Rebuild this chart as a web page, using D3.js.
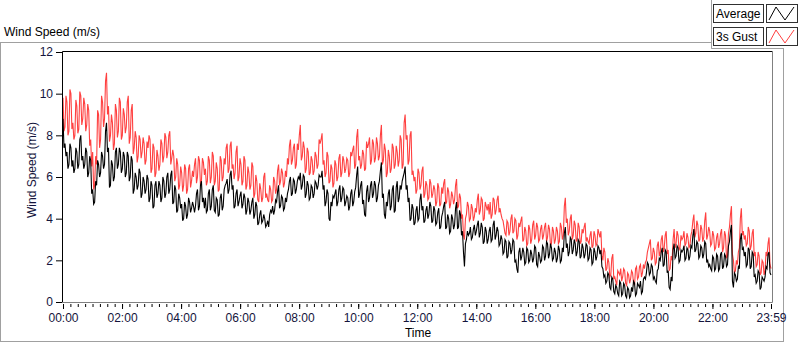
<!DOCTYPE html>
<html><head><meta charset="utf-8">
<script src="https://cdn.jsdelivr.net/npm/d3@7"></script>
<style>
html,body{margin:0;padding:0;background:#fff;}
svg{display:block;font-family:"Liberation Sans",Arial,sans-serif;}
</style></head>
<body><svg id="c" width="800" height="342"></svg>
<script>
// ---- data (m/s); each segment = ~4.8 h, two readings per 2 px column pair ----
const gustA = [9.8,8.4,9.6,8.2,10.0,8.6,8.0,9.4,8.3,9.9,8.8,9.5,8.5,9.2,7.8,7.2,5.6,6.6,9.0,7.8,9.6,8.8,11.0,9.4,8.0,8.6,7.6,9.2,8.2,9.6,8.0,9.0,8.4,9.9,7.9,9.5,7.4,7.9,7.0,7.8,7.2,7.6,6.8,7.4,7.8,6.4,7.4,6.2,7.0,6.6,7.6,7.0,7.9,7.2,8.2,6.9,7.0,6.0,6.6,5.6,6.2,5.6,6.4,5.4,6.6,5.8,6.0,6.9,6.0,6.8,5.8,6.7];
const gustAmid = [8.2,9.9,8.0,10.2,8.3,7.8,9.7,8.1,10.1,8.5,9.8,8.2,9.5,7.5,6.5,5.4,7.0,9.2,7.4,9.9,8.4,10.6,9.0,7.7,9.0,7.3,9.5,7.9,9.8,7.8,9.3,8.1,9.6,7.6,9.2,7.1,8.2,6.7,8.0,6.9,7.9,6.6,7.7,8.0,6.2,7.6,6.0,7.3,6.3,7.8,6.7,8.1,6.9,8.0,6.6,7.3,5.8,6.9,5.4,6.5,5.3,6.6,5.2,6.4,5.5,6.3,6.6,5.7,7.0,5.6,6.9,6.1];
const gustB = [6.4,5.8,6.8,6.0,7.0,5.8,6.4,5.4,6.8,6.0,6.6,7.6,6.4,7.7,6.6,6.2,7.5,6.0,6.6,5.8,6.8,5.6,6.2,5.6,6.5,5.2,5.8,4.8,5.4,5.0,6.2,5.2,4.8,5.4,4.9,5.8,5.4,6.6,5.8,6.2,5.7,6.0,6.6,7.8,6.8,7.6,6.6,7.3,8.5,7.0,7.4,6.4,7.2,6.2,6.8,6.3,7.0,6.6,7.6,8.1,6.8,6.2,7.0,5.8,6.4,5.7,6.6,6.0,7.1,6.2,6.8,6.4];
const gustBmid = [5.6,7.0,5.7,7.2,5.6,6.7,5.3,7.0,5.8,6.9,7.4,6.2,7.5,6.4,5.9,7.2,5.8,6.9,5.6,7.0,5.4,6.5,5.4,6.7,5.0,6.1,4.9,5.7,4.8,6.0,5.0,4.9,5.6,4.8,6.0,5.2,6.3,5.6,6.4,5.5,6.3,6.9,7.5,6.6,7.4,6.4,7.6,8.0,6.8,7.7,6.2,7.4,6.1,7.0,6.1,7.2,6.4,7.8,7.8,6.6,6.0,7.2,5.7,6.6,5.5,6.8,5.8,6.9,6.0,7.0,6.2,6.9];
const gustC = [6.8,6.2,7.0,7.5,6.6,8.3,7.0,6.6,7.1,6.4,7.4,7.9,6.8,7.6,6.9,7.6,7.0,8.5,6.8,7.3,6.2,7.0,6.4,7.4,6.6,7.2,6.8,7.8,6.6,9.0,8.0,6.8,8.2,6.3,6.0,5.4,6.2,5.6,6.5,5.2,5.6,5.0,5.7,5.2,5.4,4.8,5.5,4.7,5.2,5.9,4.8,5.3,4.7,5.1,4.9,5.9,4.6,5.0,4.2,3.0,4.2,4.6,4.0,4.5,4.1,4.3,5.2,4.4,4.9,4.0,4.6,4.7];
const gustCmid = [6.0,7.2,7.3,6.4,7.9,6.8,6.4,7.3,6.3,7.7,7.6,6.6,7.8,6.7,7.9,6.8,8.0,6.6,7.6,6.0,7.3,6.2,7.6,6.4,7.5,6.5,8.0,6.4,8.6,7.8,6.6,8.0,6.1,5.8,5.2,6.4,5.4,6.3,5.0,5.8,4.9,5.9,5.0,5.6,4.6,5.7,4.6,5.5,5.7,4.7,5.5,4.5,5.3,4.7,5.6,4.5,5.2,4.0,3.2,4.0,4.8,3.9,4.7,3.9,4.5,4.9,4.2,5.0,3.9,4.8,4.4,4.2];
const gustD = [4.8,4.2,4.9,4.4,5.1,4.5,4.0,3.6,3.2,3.8,3.4,4.2,3.4,3.9,3.2,3.6,4.1,3.0,3.4,2.8,3.5,3.0,3.9,3.2,3.6,3.0,3.7,3.2,3.8,3.1,3.5,2.8,3.4,3.0,3.4,2.9,3.6,3.2,5.0,4.0,3.4,4.2,3.2,3.7,3.0,3.6,2.9,3.3,3.8,3.1,2.8,3.4,2.7,3.2,2.8,3.3,3.4,2.0,2.4,1.6,1.9,1.3,2.3,1.2,0.8,1.4,1.6,1.2,1.5,0.8,1.3,1.1];
const gustDmid = [4.0,5.0,4.2,4.9,4.3,4.2,3.9,3.3,3.9,3.2,4.0,3.3,4.0,3.0,3.8,3.9,2.9,3.6,2.7,3.7,2.8,3.7,3.0,3.8,2.9,3.5,3.0,3.6,2.9,3.7,2.7,3.6,2.8,3.6,2.8,3.8,3.0,4.6,3.8,3.2,4.0,3.0,3.9,2.9,3.8,2.8,3.5,3.6,2.9,2.9,3.2,2.6,3.4,2.7,3.5,3.1,2.2,2.6,1.5,2.1,1.2,2.1,1.1,1.0,1.5,1.3,1.0,1.6,0.9,1.4,0.9,1.5];
const gustE = [1.4,0.8,1.7,1.2,1.8,1.4,1.6,2.0,2.6,3.0,2.1,2.4,1.9,2.9,2.4,3.2,2.6,3.4,2.5,1.6,2.0,3.5,2.8,3.2,2.6,3.0,3.4,2.8,3.1,2.7,3.4,4.2,3.3,3.7,3.0,3.5,3.1,4.3,3.2,3.4,2.8,3.2,2.6,3.3,2.8,3.5,2.6,3.2,2.2,3.6,4.6,2.0,1.5,1.8,2.6,4.5,3.4,3.2,2.8,3.4,2.7,3.5,2.4,1.8,2.2,1.4,1.9,1.5,2.2,3.1,1.6];
const gustEmid = [0.9,1.6,1.1,1.7,1.2,1.8,1.9,2.4,2.8,2.0,2.6,1.8,2.7,2.2,3.0,2.4,3.2,2.3,1.5,2.2,3.0,2.6,3.4,2.5,3.2,3.1,2.7,3.3,2.6,3.2,3.9,3.1,3.9,2.9,3.7,2.9,3.9,3.0,3.6,2.7,3.4,2.5,3.1,2.6,3.3,2.4,3.4,2.1,3.3,4.2,2.3,1.4,2.0,2.4,4.0,3.2,3.0,2.7,3.6,2.5,3.3,2.2,1.7,2.4,1.3,2.0,1.3,2.4,2.8,1.8];

const avgA = [8.8,7.6,7.2,6.6,7.4,6.8,6.4,7.2,6.6,8.0,7.0,6.6,7.2,6.2,6.8,5.4,4.8,5.6,6.6,6.2,7.0,6.6,8.6,7.4,5.6,6.6,6.0,7.4,6.6,7.2,6.4,7.0,6.2,7.0,6.0,6.8,5.4,6.0,5.6,6.2,5.2,5.8,5.4,5.9,5.0,5.6,4.6,5.8,5.2,5.6,5.0,5.8,5.2,6.2,5.4,6.3,4.8,5.4,4.4,5.0,4.7,4.0,4.6,4.2,4.8,4.5,4.6,4.6,5.4,4.6,5.8,5.0];
const avgAmid = [7.4,7.0,6.4,7.6,6.5,6.2,7.4,6.4,7.8,6.8,6.4,7.4,6.0,7.0,5.2,4.7,5.8,6.8,6.0,7.2,6.4,8.2,7.2,5.5,6.8,5.8,7.2,6.4,7.4,6.2,7.2,6.0,7.2,5.8,7.0,5.2,6.2,5.4,6.4,5.0,6.0,5.2,6.1,4.8,5.8,4.5,5.6,5.0,5.8,4.8,6.0,5.0,6.0,5.2,6.1,4.7,5.6,4.3,5.2,4.5,3.9,4.8,4.0,5.0,4.3,4.8,4.3,5.2,4.4,5.6,4.8,4.5];
const avgB = [5.0,4.4,5.4,4.6,5.6,4.3,4.9,4.2,5.2,4.6,5.6,5.9,5.4,6.3,5.6,4.6,5.4,4.8,5.3,4.7,5.0,4.4,4.8,4.4,5.0,4.2,4.6,3.8,4.4,3.9,4.0,3.7,3.6,4.4,4.6,4.4,4.8,5.6,4.6,5.0,4.5,4.8,5.4,6.0,5.2,5.8,5.4,6.0,6.2,5.6,6.0,5.2,5.6,5.0,5.5,5.2,5.7,5.6,6.0,6.3,5.6,4.8,5.2,3.9,4.6,5.0,5.4,4.8,5.6,5.0,5.4,4.8];
const avgBmid = [4.3,5.2,4.4,5.4,4.4,5.0,4.1,5.0,4.4,5.4,5.7,5.2,6.1,5.4,4.5,5.2,4.6,5.1,4.5,5.2,4.2,5.0,4.2,4.8,4.0,4.8,3.7,4.2,3.8,4.2,3.6,3.9,4.2,4.3,4.2,4.9,5.3,4.5,5.1,4.4,5.0,5.2,5.8,5.1,5.9,5.2,5.8,5.9,5.4,6.1,5.0,5.8,4.9,5.6,5.0,5.8,5.4,6.1,6.0,5.4,4.6,5.4,4.0,4.8,5.1,5.2,4.6,5.4,4.8,5.5,4.6,5.1];
const avgC = [5.0,4.6,5.4,4.8,5.5,6.5,5.2,5.8,4.9,4.1,5.6,5.0,5.8,5.2,5.6,5.0,5.8,6.7,5.2,4.0,4.6,5.4,4.6,5.6,4.4,5.8,5.0,5.4,6.0,6.5,5.6,5.0,4.0,4.5,3.8,4.6,4.0,5.2,4.6,3.9,4.6,4.2,4.6,3.9,4.4,3.8,4.5,3.6,4.3,4.8,3.6,4.0,3.4,4.0,3.7,4.8,3.6,4.2,3.4,1.7,3.0,3.2,3.6,3.1,3.7,3.4,3.9,3.3,3.6,2.9,3.4,3.0];
const avgCmid = [4.4,5.2,4.6,5.3,6.1,5.0,5.6,4.7,4.2,5.3,4.8,5.6,5.0,5.8,4.8,5.6,6.3,5.0,4.2,4.8,5.2,4.4,5.4,4.3,5.5,4.8,5.6,5.8,6.2,5.4,4.8,3.9,4.7,3.7,4.4,3.9,4.9,4.4,3.8,4.4,4.0,4.8,3.8,4.6,3.7,4.3,3.5,4.1,4.6,3.5,4.2,3.3,4.2,3.5,4.5,3.5,4.4,3.2,2.4,2.8,3.4,3.3,3.0,3.5,3.2,3.7,3.1,3.8,2.8,3.6,2.8,3.4];
const avgD = [3.6,3.0,3.9,3.2,3.4,2.8,3.0,2.4,2.9,2.2,2.8,2.5,2.9,2.0,1.4,2.6,2.2,2.4,1.9,2.5,2.0,2.3,2.1,2.6,1.7,2.2,2.0,2.6,2.2,2.8,2.3,2.6,2.1,2.4,2.1,2.5,2.0,2.4,3.6,2.8,2.4,3.0,2.5,2.8,2.4,2.9,2.2,2.6,2.3,2.7,2.1,2.5,1.9,2.4,2.2,2.6,2.5,1.6,1.3,1.0,1.3,0.6,1.1,0.4,0.7,0.3,0.9,0.4,0.8,0.2,0.6,0.3];
const avgDmid = [2.9,3.7,3.0,3.6,2.7,3.2,2.3,3.0,2.1,2.9,2.3,3.0,1.9,1.6,2.4,2.0,2.6,1.8,2.6,1.9,2.5,1.9,2.7,1.8,2.4,1.9,2.7,2.0,2.9,2.1,2.8,2.0,2.6,1.9,2.7,1.9,2.6,3.3,2.6,2.2,3.1,2.3,3.0,2.2,3.0,2.1,2.8,2.1,2.8,2.0,2.6,1.8,2.6,2.0,2.7,2.3,1.7,1.2,0.9,1.4,0.7,1.2,0.5,0.8,0.4,1.0,0.3,0.9,0.3,0.7,0.2,0.7];
const avgE = [0.5,0.9,0.4,0.8,1.0,0.5,1.2,1.4,1.8,1.4,1.7,1.2,0.9,1.6,2.0,2.6,1.8,2.4,1.5,0.6,1.0,2.8,2.2,2.6,2.0,2.4,2.7,2.1,2.5,2.2,2.6,3.5,2.5,2.8,2.2,2.6,2.3,2.8,2.0,1.8,1.5,2.1,1.6,2.2,1.6,2.4,1.7,2.2,1.8,2.9,3.7,0.7,1.3,1.1,1.6,3.3,2.6,2.4,1.8,2.5,1.7,2.3,1.3,1.0,1.4,0.7,1.1,1.2,1.6,2.4,1.3];
const avgEmid = [1.0,0.3,0.9,0.7,0.4,1.1,1.1,1.9,1.3,1.8,1.1,1.0,1.5,2.1,2.4,1.7,2.5,1.4,0.7,1.2,2.5,2.1,2.7,1.9,2.5,2.5,2.0,2.6,2.0,2.7,3.2,2.4,2.9,2.1,2.7,2.1,2.9,1.9,1.7,1.6,2.2,1.5,2.3,1.5,2.3,1.6,2.3,1.7,2.7,3.4,1.0,1.4,1.0,1.7,3.0,2.5,2.2,1.7,2.6,1.6,2.4,1.2,0.9,1.5,0.6,1.2,1.0,1.7,2.3,1.4];

const yTicks = [0,2,4,6,8,10,12];
const xMajor = [0,120,240,360,480,600,720,840,960,1080,1200,1320,1439];
const xLabels = ["00:00","02:00","04:00","06:00","08:00","10:00","12:00","14:00","16:00","18:00","20:00","22:00","23:59"];
const seriesNames = ["Average","3s Gust"];
const seriesColors = ["#000000","#ff4040"];

function weave(parts){
  const out=[];
  parts.forEach(([main,mid],pi)=>{
    main.forEach((v,i)=>{
      out.push(v);
      const last = pi===parts.length-1 && i===main.length-1;
      if(!last && mid[i]!==undefined) out.push(mid[i]);
    });
  });
  return out;
}
const gust = weave([[gustA,gustAmid],[gustB,gustBmid],[gustC,gustCmid],[gustD,gustDmid],[gustE,gustEmid]]);
const avg = weave([[avgA,avgAmid],[avgB,avgBmid],[avgC,avgCmid],[avgD,avgDmid],[avgE,avgEmid]]);
const lastMinute = 1439;

// ---- drawing ----
const svg = d3.select("#c");
const x = d3.scaleLinear().domain([0,lastMinute]).range([63,771]);
const y = d3.scaleLinear().domain([0,12]).range([302,52]);
const textCol = "#14143c";

// outer frame (grey)
const g0 = svg.append("g").attr("stroke","#a0a0a0").attr("fill","none");
g0.append("path").attr("d","M0,42.5H711.5V48.5H783.5");
g0.append("path").attr("d","M0.5,42V342");
g0.append("path").attr("d","M783.5,48V342");
g0.append("path").attr("d","M711.5,0V48.5");
g0.append("path").attr("d","M0,341.5H784");

// title
svg.append("text").attr("x",4).attr("y",36).attr("font-size",12).attr("fill","#000").text("Wind Speed (m/s)");

// legend
seriesNames.forEach((n,i)=>{
  const top = 4 + i*23;
  svg.append("rect").attr("x",713.5).attr("y",top+0.5).attr("width",50).attr("height",18)
     .attr("fill","#fff").attr("stroke","#303030");
  svg.append("text").attr("x",716).attr("y",top+14).attr("font-size",12).attr("fill","#000").text(n);
  svg.append("rect").attr("x",766.5).attr("y",top+0.5).attr("width",31).attr("height",18)
     .attr("fill","#fff").attr("stroke","#303030");
  svg.append("path").attr("d",`M769,${top+16}L776,${top+3}L785,${top+16}L794,${top+3}`)
     .attr("fill","none").attr("stroke",seriesColors[i]).attr("stroke-width",1);
});

// plot background
svg.append("rect").attr("x",62).attr("y",51).attr("width",710).attr("height",251).attr("fill","#fff");

// lines
const mk = arr => d3.line().x((d,i)=>x(i*lastMinute/(arr.length-1))).y(d=>y(d))(arr);
svg.append("path").attr("d",mk(gust)).attr("fill","none").attr("stroke",seriesColors[1]).attr("stroke-width",1.1);
svg.append("path").attr("d",mk(avg)).attr("fill","none").attr("stroke",seriesColors[0]).attr("stroke-width",1.1);

// plot frame
svg.append("path").attr("d","M62.5,303V51.5H772").attr("fill","none").attr("stroke","#000");
svg.append("path").attr("d","M62,302.5H772.5V51").attr("fill","none").attr("stroke","#808080");

// y axis
const yAx = svg.append("g").attr("transform","translate(62,0)")
  .call(d3.axisLeft(y).tickValues(yTicks).tickSize(6).tickPadding(3).tickSizeOuter(0));
yAx.select(".domain").remove();
yAx.selectAll("text").attr("font-size",12).attr("fill",textCol).attr("font-family","Liberation Sans, Arial, sans-serif");

// x axis minor ticks
const xMin = svg.append("g").attr("transform","translate(0,304)")
  .call(d3.axisBottom(x).tickValues(d3.range(0,1440,15)).tickSize(3).tickFormat(""));
xMin.select(".domain").remove();
// x axis major
const xAx = svg.append("g").attr("transform","translate(0,304)")
  .call(d3.axisBottom(x).tickValues(xMajor).tickSize(5).tickPadding(4)
        .tickFormat((d,i)=>xLabels[i]));
xAx.select(".domain").remove();
xAx.selectAll("text").attr("font-size",12).attr("fill",textCol).attr("font-family","Liberation Sans, Arial, sans-serif");

// axis titles
svg.append("text").attr("x",418).attr("y",337).attr("text-anchor","middle").attr("font-size",12)
  .attr("fill","#000").text("Time");
svg.append("text").attr("transform","translate(36,170) rotate(-90)").attr("text-anchor","middle")
  .attr("font-size",12).attr("fill",textCol).text("Wind Speed (m/s)");
</script></body></html>
